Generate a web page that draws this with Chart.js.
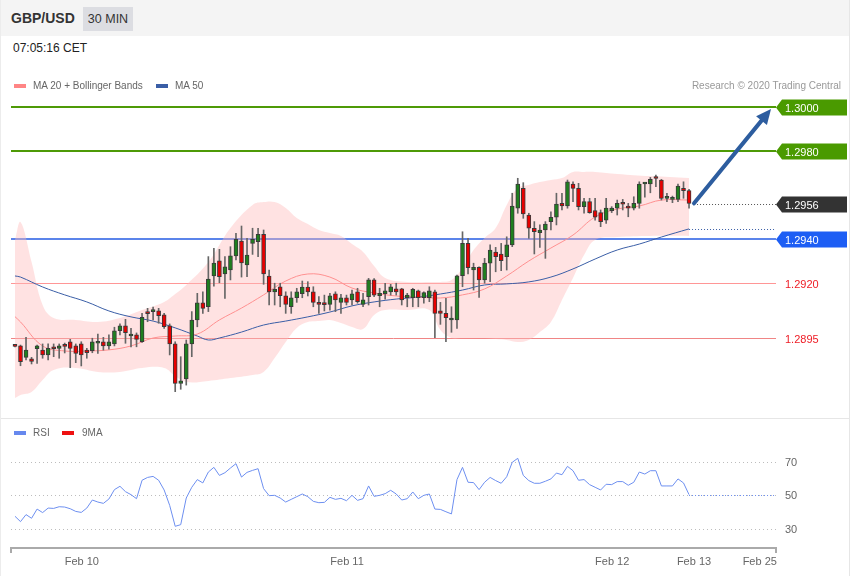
<!DOCTYPE html>
<html>
<head>
<meta charset="utf-8">
<script src="https://cdn.jsdelivr.net/npm/chart.js@4.4.1/dist/chart.umd.min.js"></script>
<style>
  body { margin: 0; background: #fff; font-family: "Liberation Sans", Arial, sans-serif; }
  #wrap { position: relative; width: 850px; height: 576px; overflow: hidden; background: #fff; }
  .abs { position: absolute; }
  #topbar { left: 0; top: 0; width: 850px; height: 36px; background: #f4f4f4; }
  #pair { left: 11px; top: 10px; font-size: 14px; font-weight: bold; color: #333; }
  #tf { left: 83px; top: 7px; width: 50px; height: 24px; line-height: 24px; text-align: center; background: #dcdde2; font-size: 12.5px; color: #333; }
  #clock { left: 13px; top: 41px; font-size: 12px; color: #222; }
  .leg { font-size: 10px; color: #666; white-space: nowrap; }
  .sw { width: 12px; height: 4px; }
  #credit { right: 9px; top: 80px; font-size: 10px; color: #999; }
  #sep { left: 0; top: 418px; width: 850px; height: 1px; background: #e6e6e6; }
  #bl { left: 0; top: 0; width: 1px; height: 576px; background: #ececec; }
  #br { left: 849px; top: 0; width: 1px; height: 576px; background: #e6e6e6; }
  canvas { position: absolute; left: 0; }
</style>
</head>
<body>
<div id="wrap">
  <div id="topbar" class="abs"></div>
  <div id="pair" class="abs">GBP/USD</div>
  <div id="tf" class="abs">30 MIN</div>
  <div id="clock" class="abs">07:05:16 CET</div>

  <canvas id="main" width="850" height="358" style="top:60px"></canvas>
  <canvas id="rsi" width="850" height="158" style="top:418px"></canvas>

  <div class="abs sw" style="left:14px;top:84px;background:#ff8585"></div>
  <div class="abs leg" style="left:33px;top:80px">MA 20 + Bollinger Bands</div>
  <div class="abs sw" style="left:156px;top:84px;background:#3a5ea6"></div>
  <div class="abs leg" style="left:175px;top:80px">MA 50</div>
  <div id="credit" class="abs leg">Research © 2020 Trading Central</div>

  <div class="abs sw" style="left:14px;top:431px;background:#6688ee"></div>
  <div class="abs leg" style="left:33px;top:427px">RSI</div>
  <div class="abs sw" style="left:62px;top:431px;background:#ee1111"></div>
  <div class="abs leg" style="left:82px;top:427px">9MA</div>

  <div id="sep" class="abs"></div>
  <div id="bl" class="abs"></div>
  <div id="br" class="abs"></div>
</div>
<script>
// GBP/USD 30 min candles (index 0 = oldest)
const opens = [1.28914,1.28914,1.28862,1.28855,1.28901,1.28895,1.28873,1.28903,1.28903,1.28914,1.28933,1.28914,1.28923,1.28895,1.28892,1.28926,1.28933,1.28914,1.28923,1.28983,
  1.29005,1.28959,1.28964,1.28933,1.29062,1.29070,1.29073,1.29055,1.29005,1.28923,1.28744,1.28764,1.28923,1.29032,1.29110,1.29092,1.29232,1.29301,1.29241,1.29259,
  1.29323,1.29391,1.29282,1.29380,1.29388,1.29421,1.29232,1.29160,1.29183,1.29142,1.29092,1.29133,1.29151,1.29182,1.29160,1.29112,1.29103,1.29103,1.29151,1.29112,
  1.29133,1.29123,1.29160,1.29103,1.29138,1.29214,1.29142,1.29151,1.29160,1.29173,1.29173,1.29133,1.29133,1.29164,1.29133,1.29133,1.29160,1.29073,1.29062,1.29032,
  1.29032,1.29233,1.29380,1.29259,1.29271,1.29214,1.29290,1.29341,1.29332,1.29320,1.29373,1.29540,1.29630,1.29509,1.29449,1.29429,1.29441,1.29479,1.29499,1.29562,
  1.29550,1.29650,1.29630,1.29547,1.29570,1.29529,1.29520,1.29486,1.29529,1.29540,1.29559,1.29550,1.29540,1.29562,1.29650,1.29650,1.29676,1.29668,1.29585,1.29580,
  1.29580,1.29630,1.29620];
const highs = [1.28918,1.28918,1.28953,1.28862,1.28918,1.28923,1.28923,1.28923,1.28923,1.28927,1.28944,1.28923,1.28933,1.28903,1.28949,1.28968,1.28953,1.28964,1.28999,1.29014,
  1.29035,1.28994,1.28973,1.29062,1.29085,1.29090,1.29085,1.29062,1.29014,1.28933,1.28865,1.28941,1.29070,1.29153,1.29160,1.29320,1.29358,1.29353,1.29320,1.29365,
  1.29426,1.29459,1.29403,1.29449,1.29449,1.29441,1.29259,1.29199,1.29199,1.29160,1.29160,1.29176,1.29209,1.29206,1.29183,1.29138,1.29145,1.29153,1.29160,1.29149,
  1.29145,1.29168,1.29176,1.29153,1.29221,1.29220,1.29176,1.29199,1.29194,1.29199,1.29176,1.29153,1.29176,1.29168,1.29160,1.29183,1.29168,1.29112,1.29130,1.29092,
  1.29236,1.29433,1.29403,1.29290,1.29274,1.29312,1.29373,1.29362,1.29380,1.29410,1.29608,1.29676,1.29656,1.29517,1.29479,1.29464,1.29479,1.29524,1.29608,1.29608,
  1.29668,1.29660,1.29653,1.29585,1.29585,1.29585,1.29532,1.29585,1.29547,1.29577,1.29580,1.29562,1.29592,1.29660,1.29656,1.29680,1.29691,1.29671,1.29608,1.29595,
  1.29650,1.29660,1.29626];
const lows = [1.28909,1.28824,1.28850,1.28832,1.28835,1.28858,1.28850,1.28865,1.28858,1.28882,1.28815,1.28838,1.28823,1.28858,1.28883,1.28880,1.28895,1.28899,1.28914,1.28964,
  1.28926,1.28910,1.28910,1.28930,1.29024,1.29032,1.29017,1.28994,1.28873,1.28706,1.28717,1.28736,1.28865,1.29001,1.29062,1.29070,1.29186,1.29201,1.29130,1.29214,
  1.29305,1.29227,1.29229,1.29330,1.29320,1.29194,1.29100,1.29100,1.29092,1.29062,1.29062,1.29112,1.29133,1.29141,1.29092,1.29062,1.29073,1.29077,1.29070,1.29062,
  1.29100,1.29100,1.29108,1.29092,1.29100,1.29138,1.29092,1.29127,1.29145,1.29145,1.29100,1.29092,1.29092,1.29092,1.29108,1.29115,1.28951,1.29012,1.28933,1.28976,
  1.28994,1.29183,1.29241,1.29168,1.29135,1.29199,1.29206,1.29251,1.29256,1.29259,1.29365,1.29517,1.29494,1.29403,1.29332,1.29362,1.29312,1.29441,1.29464,1.29532,
  1.29540,1.29570,1.29532,1.29517,1.29517,1.29486,1.29456,1.29471,1.29520,1.29509,1.29532,1.29501,1.29532,1.29540,1.29590,1.29610,1.29638,1.29577,1.29570,1.29565,
  1.29570,1.29585,1.29540];
const closes = [1.28912,1.28842,1.28895,1.28844,1.28914,1.28873,1.28903,1.28901,1.28914,1.28912,1.28903,1.28880,1.28873,1.28883,1.28933,1.28927,1.28914,1.28933,1.28983,1.29005,
  1.28974,1.28968,1.28944,1.29044,1.29061,1.29071,1.29051,1.29001,1.28923,1.28744,1.28755,1.28923,1.29032,1.29110,1.29085,1.29218,1.29290,1.29229,1.29274,1.29323,
  1.29399,1.29291,1.29327,1.29399,1.29421,1.29241,1.29160,1.29171,1.29142,1.29103,1.29133,1.29160,1.29182,1.29160,1.29112,1.29103,1.29102,1.29142,1.29123,1.29133,
  1.29112,1.29151,1.29115,1.29123,1.29214,1.29145,1.29153,1.29164,1.29183,1.29160,1.29123,1.29145,1.29171,1.29133,1.29156,1.29164,1.29062,1.29062,1.29042,1.29034,
  1.29233,1.29380,1.29270,1.29271,1.29214,1.29290,1.29350,1.29320,1.29301,1.29373,1.29550,1.29650,1.29514,1.29449,1.29433,1.29441,1.29468,1.29499,1.29559,1.29550,
  1.29660,1.29630,1.29547,1.29570,1.29520,1.29499,1.29479,1.29540,1.29540,1.29562,1.29558,1.29540,1.29562,1.29650,1.29651,1.29671,1.29675,1.29585,1.29586,1.29581,
  1.29641,1.29620,1.29562];

// Bollinger band (MA 20 +/- 2 sd), read at sample candles
const bandIdx = [0,1,3,5,7,11,15,19,23,27,29,31,35,39,43,45,47,49,51,53,55,57,59,61,63,65,67,71,75,77,79,81,83,85,87,89,91,93,95,97,99,101,103,105,109,115,122];
const bandUpper = [1.29396,1.29477,1.29295,1.29100,1.29041,1.29032,1.29023,1.29041,1.29077,1.29114,1.29150,1.29191,1.29295,1.29450,1.29555,1.29568,1.29568,1.29541,1.29495,1.29468,
  1.29441,1.29427,1.29414,1.29377,1.29341,1.29277,1.29223,1.29205,1.29205,1.29205,1.29214,1.29268,1.29350,1.29405,1.29450,1.29555,1.29632,1.29646,1.29659,1.29668,
  1.29677,1.29705,1.29705,1.29705,1.29696,1.29686,1.29677];
const bandLower = [1.28677,1.28691,1.28705,1.28759,1.28805,1.28814,1.28796,1.28796,1.28814,1.28814,1.28777,1.28750,1.28755,1.28768,1.28782,1.28796,1.28859,1.28932,1.28996,1.29023,
  1.29027,1.29032,1.29018,1.29000,1.28991,1.29055,1.29077,1.29077,1.29077,1.28986,1.28950,1.28950,1.28950,1.28950,1.28945,1.28941,1.28932,1.28941,1.28977,1.29023,
  1.29123,1.29223,1.29327,1.29396,1.29409,1.29414,1.29414];

const ma20Idx = [0,1,5,9,13,17,21,25,29,33,37,41,45,49,53,57,61,65,69,73,77,81,85,89,93,97,101,105,109,113,117,122];
const ma20Vals = [1.29047,1.29023,1.28914,1.28891,1.28891,1.28896,1.28914,1.28950,1.28959,1.28968,1.29032,1.29086,1.29146,1.29209,1.29241,1.29227,
  1.29177,1.29155,1.29141,1.29136,1.29132,1.29146,1.29173,1.29232,1.29300,1.29359,1.29418,1.29500,1.29536,1.29550,1.29577,1.29577];

const ma50Idx = [0,1,5,9,13,17,21,25,29,33,35,37,41,45,49,53,57,61,65,69,73,77,81,85,89,93,97,101,105,109,113,117,122];
const ma50Vals = [1.29232,1.29227,1.29182,1.29146,1.29114,1.29073,1.29046,1.29027,1.28996,1.28959,1.28941,1.28950,1.28977,1.29009,1.29027,1.29046,1.29068,
  1.29096,1.29114,1.29127,1.29136,1.29150,1.29168,1.29191,1.29196,1.29205,1.29227,1.29264,1.29309,1.29350,1.29377,1.29409,1.29446];

// RSI (one value per candle)
const rsiVals = [37.6,34.4,38.6,36.4,41.9,39.8,42.5,42.3,43.3,43.1,42.1,40.5,39.9,42.5,47.3,46.1,45.3,47.9,53.5,55.5,
  52.3,50.5,48.1,59.1,60.8,61.4,59.1,53.3,44.1,31.6,32.6,48.5,54.9,59.5,57.5,64.0,66.8,62.0,63.6,66.4,
  69.0,61.0,63.8,65.0,66.0,54.1,49.9,50.1,48.5,46.1,47.7,49.3,50.9,49.3,46.5,45.7,45.9,48.9,47.7,48.3,
  46.9,50.1,47.1,48.1,55.7,49.5,50.1,51.1,53.1,50.9,47.3,48.1,52.1,48.1,50.1,50.9,41.9,41.7,40.3,39.0,
  59.5,66.8,57.9,57.7,53.5,57.9,60.8,58.9,57.3,61.2,69.8,72.2,62.0,58.9,57.3,57.3,58.5,59.9,63.4,62.4,
  67.4,64.8,59.1,59.5,56.5,54.9,53.3,56.7,56.5,58.3,58.3,56.1,57.9,64.0,62.8,64.8,64.8,55.7,55.7,55.7,
  59.9,57.5,50.5];
const rsiLevels = [70, 50, 30];

// price levels on the right
const levelValues = [1.3000, 1.2980, 1.2956, 1.2940, 1.2920, 1.2895];
const levelLabels = ['1.3000', '1.2980', '1.2956', '1.2940', '1.2920', '1.2895'];

// time axis
const dateLabels = ['Feb 10', 'Feb 11', 'Feb 12', 'Feb 13', 'Feb 25'];
const dateTicks = [12.1, 60.1, 108.1, 122.9, 134.8];

const FONT = '"Liberation Sans", Arial, sans-serif';
const X_MIN = -0.72, X_MAX = 137.74;
const last = closes.length - 1;

const levelStyles = [
  { line: '#4e9a06', width: 2, bg: '#4a9a00', text: '#fff' },
  { line: '#4e9a06', width: 2, bg: '#4a9a00', text: '#fff' },
  { line: null, width: 0, bg: '#333333', text: '#fff' },
  { line: '#5b84ea', width: 2, bg: '#1d5ef4', text: '#fff' },
  { line: '#ff9696', width: 1, bg: null, text: '#ee1c25' },
  { line: '#f08585', width: 1, bg: null, text: '#ee1c25' }
];

function pts(idx, vals) {
  return idx.map((x, i) => ({ x: x, y: vals[i] }));
}

const levelsPlugin = {
  id: 'levels',
  beforeDatasetsDraw(chart) {
    const ctx = chart.ctx, area = chart.chartArea, y = chart.scales.y;
    ctx.save();
    levelValues.forEach((v, i) => {
      const st = levelStyles[i];
      if (!st.line) return;
      const py = Math.round(y.getPixelForValue(v)) + (st.width === 1 ? 0.5 : 0);
      ctx.strokeStyle = st.line;
      ctx.lineWidth = st.width;
      ctx.beginPath();
      ctx.moveTo(area.left, py);
      ctx.lineTo(area.right, py);
      ctx.stroke();
    });
    ctx.restore();
  },
  afterDraw(chart) {
    const ctx = chart.ctx, area = chart.chartArea, x = chart.scales.x, y = chart.scales.y;
    ctx.save();
    // dotted extensions after the last candle
    const lx = x.getPixelForValue(last);
    ctx.setLineDash([1, 2]);
    ctx.lineWidth = 1;
    ctx.strokeStyle = '#555';
    let py = Math.round(y.getPixelForValue(levelValues[2])) + 0.5;
    ctx.beginPath(); ctx.moveTo(lx + 5, py); ctx.lineTo(area.right, py); ctx.stroke();
    ctx.strokeStyle = '#3a5ea6';
    py = Math.round(y.getPixelForValue(ma50Vals[ma50Vals.length - 1])) + 0.5;
    ctx.beginPath(); ctx.moveTo(lx, py); ctx.lineTo(area.right, py); ctx.stroke();
    ctx.setLineDash([]);

    // forecast arrow towards 1.3000
    const x0 = lx + 5, y0 = y.getPixelForValue(closes[last]);
    const x1 = area.right - 5, y1 = y.getPixelForValue(levelValues[0]) + 2;
    const ang = Math.atan2(y1 - y0, x1 - x0);
    const hl = 15, hw = 7;
    const bx = x1 - hl * Math.cos(ang), by = y1 - hl * Math.sin(ang);
    ctx.strokeStyle = '#2d5d9f';
    ctx.fillStyle = '#2d5d9f';
    ctx.lineWidth = 4;
    ctx.lineCap = 'round';
    ctx.beginPath(); ctx.moveTo(x0, y0); ctx.lineTo(bx, by); ctx.stroke();
    ctx.beginPath();
    ctx.moveTo(x1, y1);
    ctx.lineTo(bx + hw * Math.sin(ang), by - hw * Math.cos(ang));
    ctx.lineTo(bx - hw * Math.sin(ang), by + hw * Math.cos(ang));
    ctx.closePath();
    ctx.fill();

    // right side labels
    ctx.font = '11px ' + FONT;
    ctx.textBaseline = 'middle';
    levelValues.forEach((v, i) => {
      const st = levelStyles[i];
      const cy = Math.round(y.getPixelForValue(v)) + 0.5;
      const left = area.right;
      if (st.bg) {
        ctx.fillStyle = st.bg;
        ctx.beginPath();
        ctx.moveTo(left, cy);
        ctx.lineTo(left + 6, cy - 8);
        ctx.lineTo(847, cy - 8);
        ctx.lineTo(847, cy + 8);
        ctx.lineTo(left + 6, cy + 8);
        ctx.closePath();
        ctx.fill();
      }
      ctx.fillStyle = st.text;
      ctx.fillText(levelLabels[i], left + 9, cy + 1);
    });
    ctx.restore();
  }
};

const candleIdx = closes.map((c, i) => i);
const bodyColors = closes.map((c, i) => c >= opens[i] ? '#1f7f1f' : '#e80000');

new Chart(document.getElementById('main'), {
  type: 'bar',
  data: {
    datasets: [
      { type: 'line', data: pts(bandIdx, bandUpper), borderWidth: 0, borderColor: 'rgba(0,0,0,0)', pointRadius: 0,
        fill: '+1', backgroundColor: 'rgba(255,185,185,0.42)', tension: 0.4, order: 6 },
      { type: 'line', data: pts(bandIdx, bandLower), borderWidth: 0, borderColor: 'rgba(0,0,0,0)', pointRadius: 0,
        fill: false, tension: 0.4, order: 6 },
      { type: 'line', data: pts(ma20Idx, ma20Vals), borderColor: '#ff9090', borderWidth: 1, pointRadius: 0, fill: false, tension: 0.4, order: 4 },
      { type: 'line', data: pts(ma50Idx, ma50Vals), borderColor: '#3a5ea6', borderWidth: 1, pointRadius: 0, fill: false, tension: 0.4, order: 4 },
      { data: candleIdx.map(i => ({ x: i, y: [lows[i], highs[i]] })), backgroundColor: '#666', barThickness: 1, grouped: false, order: 2 },
      { data: candleIdx.map(i => ({ x: i, y: [opens[i], closes[i]] })), backgroundColor: bodyColors, borderColor: '#3a3a3a',
        borderWidth: 1, borderSkipped: false, barThickness: 4, minBarLength: 2, grouped: false, order: 1 }
    ]
  },
  options: {
    responsive: false,
    animation: false,
    layout: { padding: { left: 11, right: 74, top: 0, bottom: 0 } },
    plugins: { legend: { display: false }, tooltip: { enabled: false } },
    scales: {
      x: { type: 'linear', min: X_MIN, max: X_MAX, offset: false, display: false },
      y: { type: 'linear', min: 1.285864, max: 1.302136, display: false }
    }
  },
  plugins: [levelsPlugin]
});

const rsiPlugin = {
  id: 'rsiDeco',
  beforeDatasetsDraw(chart) {
    const ctx = chart.ctx, area = chart.chartArea, y = chart.scales.y;
    ctx.save();
    ctx.strokeStyle = '#bdbdbd';
    ctx.lineWidth = 1;
    ctx.setLineDash([1, 3]);
    rsiLevels.forEach(v => {
      const py = Math.round(y.getPixelForValue(v)) + 0.5;
      ctx.beginPath(); ctx.moveTo(area.left, py); ctx.lineTo(area.right, py); ctx.stroke();
    });
    ctx.restore();
  },
  afterDraw(chart) {
    const ctx = chart.ctx, area = chart.chartArea, x = chart.scales.x, y = chart.scales.y;
    ctx.save();
    // dotted continuation of the RSI
    const lx = x.getPixelForValue(last);
    const ly = Math.round(y.getPixelForValue(rsiVals[last])) + 0.5;
    ctx.strokeStyle = '#6d8ff0';
    ctx.setLineDash([1, 2]);
    ctx.beginPath(); ctx.moveTo(lx, ly); ctx.lineTo(area.right, ly); ctx.stroke();
    ctx.setLineDash([]);
    // level labels
    ctx.font = '11px ' + FONT;
    ctx.fillStyle = '#666';
    ctx.textBaseline = 'middle';
    rsiLevels.forEach(v => {
      ctx.fillText(String(v), area.right + 9, Math.round(y.getPixelForValue(v)) + 1);
    });
    // time axis
    ctx.strokeStyle = '#aaaaaa';
    ctx.lineWidth = 2;
    ctx.beginPath();
    ctx.moveTo(area.left, area.bottom + 5);
    ctx.lineTo(area.left, area.bottom);
    ctx.lineTo(area.right, area.bottom);
    ctx.lineTo(area.right, area.bottom + 5);
    ctx.stroke();
    ctx.textAlign = 'center';
    dateLabels.forEach((lab, i) => {
      ctx.fillText(lab, x.getPixelForValue(dateTicks[i]), area.bottom + 14);
    });
    ctx.restore();
  }
};

new Chart(document.getElementById('rsi'), {
  type: 'line',
  data: {
    datasets: [
      { data: rsiVals.map((v, i) => ({ x: i, y: v })), borderColor: '#6d8ff0', borderWidth: 1, pointRadius: 0, fill: false, tension: 0 }
    ]
  },
  options: {
    responsive: false,
    animation: false,
    layout: { padding: { left: 11, right: 74, top: 22, bottom: 28 } },
    plugins: { legend: { display: false }, tooltip: { enabled: false } },
    scales: {
      x: { type: 'linear', min: X_MIN, max: X_MAX, display: false },
      y: { type: 'linear', min: 18.66, max: 83.13, display: false }
    }
  },
  plugins: [rsiPlugin]
});
</script>
</body>
</html>
